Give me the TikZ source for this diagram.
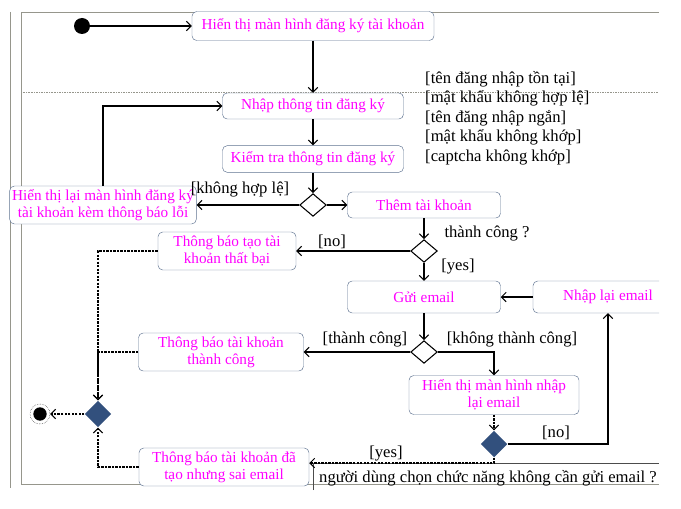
\documentclass[tikz,border=0pt]{standalone}
\usepackage{fontspec}
\setmainfont{Liberation Serif}
\usetikzlibrary{shapes.geometric,arrows.meta,calc}
\definecolor{txt}{RGB}{255, 0, 255}
\definecolor{bord}{RGB}{95, 115, 145}
\definecolor{frm}{RGB}{150, 150, 140}
\definecolor{mrg}{RGB}{50, 80, 125}

\tikzset{
  act/.style={draw=bord, rounded corners=4pt, fill=white, text=txt, align=center,
    font=\fontsize{13}{14.5}\selectfont, inner sep=2pt},
  choice/.style={diamond, draw=black, fill=white, line width=0.9pt,
    minimum width=0.8cm, minimum height=0.68cm, inner sep=0pt},
  joinbox/.style={diamond, fill=mrg, minimum width=0.8cm, minimum height=0.8cm, inner sep=0pt},
  flow/.style={draw=black, line width=0.9pt, -{Straight Barb[length=4pt,width=8pt]}},
  weak/.style={flow, dash pattern=on 2pt off 1pt},
  guard/.style={font=\fontsize{14.2}{16.6}\selectfont, inner sep=0pt},
}

\begin{document}
\begin{tikzpicture}[x=0.03cm, y=-0.03cm]
  \useasboundingbox (0,0) rectangle (681,508);
  \begin{scope}
    \clip (0,0) rectangle (659,508);
    % frame
    \draw[frm, thick] (10,12) -- (10,488);
    \draw[frm, thick] (659,12) -- (21,12) -- (21,484) -- (659,484);
    \draw[frm, densely dotted] (21,92) -- (659,92);
    \draw[black!70, thick] (313,490) -- (313,463) -- (659,463);

    % nodes
    \node[circle, fill=black, minimum size=0.48cm, inner sep=0pt] (start) at (82,26) {};
    \node[act, minimum width=7.26cm, minimum height=0.87cm] (show) at (313,26) {Hiển thị màn hình đăng ký tài khoản};
    \node[act, minimum width=5.43cm, minimum height=0.78cm] (input) at (313,106) {Nhập thông tin đăng ký};
    \node[act, minimum width=5.43cm, minimum height=0.8cm] (check) at (313,159) {Kiểm tra thông tin đăng ký};
    \node[choice] (valid) at (313,205) {};
    \node[act, minimum width=5.55cm, minimum height=1.14cm] (reshow) at (103,205) {Hiển thị lại màn hình đăng ký\\tài khoản kèm thông báo lỗi};
    \node[act, minimum width=4.59cm, minimum height=0.78cm] (add) at (424,205) {Thêm tài khoản};
    \node[choice] (added) at (424,251) {};
    \node[act, minimum width=4.14cm, minimum height=1.14cm] (failmsg) at (227,251) {Thông báo tạo tài\\khoản thất bại};
    \node[act, minimum width=4.59cm, minimum height=0.96cm] (send) at (424,297) {Gửi email};
    \node[act, minimum width=4.5cm, minimum height=0.96cm] (retype) at (608,297) {Nhập lại email};
    \node[choice] (sent) at (424,352) {};
    \node[act, minimum width=4.95cm, minimum height=1.14cm] (okmsg) at (221,352) {Thông báo tài khoản\\thành công};
    \node[act, minimum width=5.1cm, minimum height=1.17cm] (reinput) at (494,395) {Hiển thị màn hình nhập\\lại email};
    \node[joinbox] (skip) at (494,444) {};
    \node[joinbox] (merge) at (98,414) {};
    \node[act, minimum width=5.1cm, minimum height=1.14cm] (warnmsg) at (224,467) {Thông báo tài khoản đã\\tạo nhưng sai email};
    \node[circle, draw=black, densely dotted, minimum size=0.6cm, inner sep=0pt] (endpt) at (40,414) {};
    \fill (endpt.center) circle (0.2cm);

    % guards and notes
    \node[guard, anchor=west, align=left] (errs) at (425,118) {{[tên đăng nhập tồn tại]}\\{[mật khẩu không hợp lệ]}\\{[tên đăng nhập ngắn]}\\{[mật khẩu không khớp]}\\{[captcha không khớp]}};
    \node[guard] (g1) at (240,190) {[không hợp lệ]};
    \node[guard] (g2) at (332,242) {[no]};
    \node[guard] (q1) at (487,234) {thành công ?};
    \node[guard] (g3) at (458,267) {[yes]};
    \node[guard] (g4) at (365,340) {[thành công]};
    \node[guard] (g5) at (512,340) {[không thành công]};
    \node[guard] (g6) at (556,433) {[no]};
    \node[guard] (g7) at (386,454) {[yes]};
    \node[guard] (q2) at (488,478) {người dùng chọn chức năng không cần gửi email ?};

    % edges
    \draw[flow] (start) -- (show);
    \draw[flow] (show) -- (input);
    \draw[flow] (input) -- (check);
    \draw[flow] (check) -- (valid);
    \draw[flow] (valid) -- (reshow);
    \draw[flow] (valid) -- (add);
    \draw[flow] (reshow.north) |- (input.west);
    \draw[flow] (add) -- (added);
    \draw[flow] (added) -- (failmsg);
    \draw[flow] (added) -- (send);
    \draw[flow] (retype) -- (send);
    \draw[flow] (send) -- (sent);
    \draw[flow] (sent) -- (okmsg);
    \draw[flow] (sent.east) -| (reinput.north);
    \draw[weak] (reinput) -- (skip);
    \draw[flow] (skip.east) -| (retype.south);
    \draw[weak] (skip.south) |- ($(warnmsg.east)+(0,-4)$);
    \draw[weak] (failmsg.west) -| (merge.north);
    \draw[weak] (okmsg.west) -| (merge.north);
    \draw[weak] (warnmsg.west) -| (merge.south);
    \draw[weak] (merge) -- (endpt);
  \end{scope}
\end{tikzpicture}
\end{document}
